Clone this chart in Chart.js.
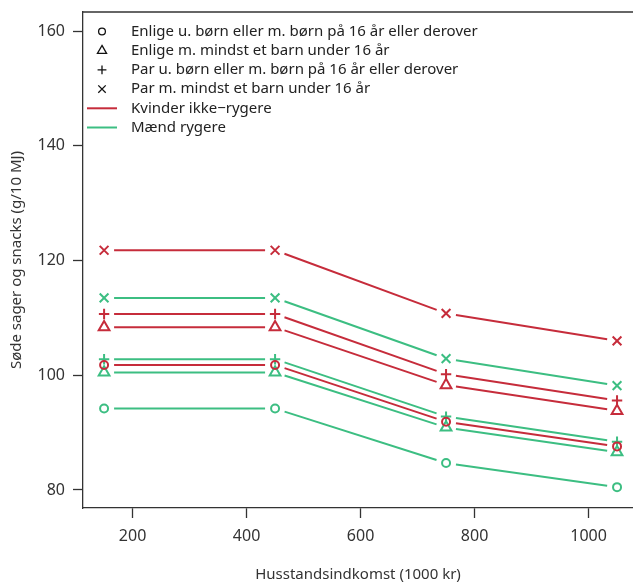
<!DOCTYPE html>
<html>
<head>
<meta charset="utf-8">
<script src="https://cdn.jsdelivr.net/npm/chart.js@4/dist/chart.umd.min.js"></script>
<style>
  html, body { margin: 0; padding: 0; background: #fff; }
  #wrap { width: 633px; height: 584px; }
</style>
</head>
<body>
<div id="wrap"><canvas id="chart" width="633" height="584"></canvas></div>
<script>
// household income (1000 kr)
const incomes = [150, 450, 750, 1050];
const xTicks = [200, 400, 600, 800, 1000];
const yTicks = [80, 100, 120, 140, 160];

const householdTypes = [
  "Enlige u. børn eller m. børn på 16 år eller derover",
  "Enlige m. mindst et barn under 16 år",
  "Par u. børn eller m. børn på 16 år eller derover",
  "Par m. mindst et barn under 16 år",
];
const groups = ["Kvinder ikke\u2212rygere", "Mænd rygere"];

// Kvinder ikke-rygere
const kvEnligeUden = [101.8, 101.8, 91.9, 87.6];
const kvEnligeMed = [108.4, 108.4, 98.3, 93.8];
const kvParUden = [110.7, 110.7, 100.2, 95.6];
const kvParMed = [121.8, 121.8, 110.8, 106.0];
// Mænd rygere
const mdEnligeUden = [94.2, 94.2, 84.7, 80.5];
const mdEnligeMed = [100.5, 100.5, 90.9, 86.6];
const mdParUden = [102.8, 102.8, 92.8, 88.4];
const mdParMed = [113.5, 113.5, 102.9, 98.2];

const RED = "#c62c3b";
const GREEN = "#3cbe82";
const INK = "#333333";
const FONT = "'Noto Sans', sans-serif";
const styles = ["circle", "triangle", "cross", "crossRot"];
const radii = { circle: 4, triangle: 6.2, cross: 5.2, crossRot: 6.2 };

const series = [
  [kvEnligeUden, 0, RED], [kvEnligeMed, 1, RED], [kvParUden, 2, RED], [kvParMed, 3, RED],
  [mdEnligeUden, 0, GREEN], [mdEnligeMed, 1, GREEN], [mdParUden, 2, GREEN], [mdParMed, 3, GREEN],
];

const datasets = series.map(([vals, type, color]) => ({
  label: householdTypes[type],
  data: vals.map((v, i) => ({ x: incomes[i], y: v })),
  showLine: false,
  borderColor: color,
  backgroundColor: "rgba(0,0,0,0)",
  pointStyle: styles[type],
  pointRadius: radii[styles[type]],
  pointBorderWidth: 2,
}));

// plot region runs to the right edge of the canvas, as in the original crop
const fullWidth = {
  id: "fullWidth",
  afterLayout(chart) {
    const xs = chart.scales.x;
    const area = chart.chartArea;
    area.right = chart.width;
    area.width = area.right - area.left;
    xs.right = chart.width;
    xs.width = xs.right - xs.left;
    xs.configure();
  },
};

// R style type="b": line segments with a gap around each point
const gapLines = {
  id: "gapLines",
  beforeDatasetsDraw(chart) {
    const ctx = chart.ctx;
    const gap = 10;
    ctx.save();
    chart.data.datasets.forEach((ds, di) => {
      const pts = chart.getDatasetMeta(di).data;
      ctx.strokeStyle = ds.borderColor;
      ctx.lineWidth = 2;
      for (let i = 0; i < pts.length - 1; i++) {
        const a = pts[i], b = pts[i + 1];
        const dx = b.x - a.x, dy = b.y - a.y;
        const len = Math.hypot(dx, dy);
        if (len <= gap * 2) continue;
        const ux = dx / len, uy = dy / len;
        ctx.beginPath();
        ctx.moveTo(a.x + ux * gap, a.y + uy * gap);
        ctx.lineTo(b.x - ux * gap, b.y - uy * gap);
        ctx.stroke();
      }
    });
    ctx.restore();
  },
};

const frameAndLegend = {
  id: "frameAndLegend",
  afterDraw(chart) {
    const ctx = chart.ctx;
    const area = chart.chartArea;
    ctx.save();
    // top border line
    ctx.strokeStyle = INK;
    ctx.lineWidth = 1.3;
    ctx.beginPath();
    ctx.moveTo(area.left, area.top);
    ctx.lineTo(chart.width, area.top);
    ctx.stroke();

    const x0 = area.left + 4;
    const mx = area.left + 19;
    const tx = area.left + 48;
    const y0 = area.top + 19.5;
    const step = 19.2;
    ctx.font = "15px " + FONT;
    ctx.textBaseline = "middle";
    householdTypes.forEach((label, i) => {
      const y = y0 + i * step;
      ctx.strokeStyle = "#111";
      ctx.fillStyle = "rgba(0,0,0,0)";
      Chart.helpers.drawPoint(ctx, { pointStyle: styles[i], radius: radii[styles[i]] * 0.85, borderWidth: 2, rotation: 0 }, mx, y);
      ctx.fillStyle = "#222";
      ctx.fillText(label, tx, y);
    });
    groups.forEach((label, j) => {
      const y = y0 + (4 + j) * step;
      ctx.strokeStyle = j === 0 ? RED : GREEN;
      ctx.lineWidth = 2;
      ctx.beginPath();
      ctx.moveTo(x0, y);
      ctx.lineTo(x0 + 30, y);
      ctx.stroke();
      ctx.fillStyle = "#222";
      ctx.fillText(label, tx, y);
    });
    ctx.restore();
  },
};

new Chart(document.getElementById("chart"), {
  type: "scatter",
  data: { datasets },
  plugins: [fullWidth, gapLines, frameAndLegend],
  options: {
    responsive: false,
    animation: false,
    layout: { padding: { top: 12, right: 0, left: 0, bottom: 0 } },
    plugins: { legend: { display: false }, tooltip: { enabled: false } },
    scales: {
      x: {
        type: "linear",
        min: 113,
        max: 1078,
        afterBuildTicks: (s) => { s.ticks = xTicks.map((v) => ({ value: v })); },
        afterFit: (s) => { s.height = 76; },
        grid: { drawOnChartArea: false, tickLength: 10, tickColor: INK, tickWidth: 1.3 },
        border: { display: true, color: INK, width: 1.3 },
        ticks: { color: INK, font: { family: FONT, size: 16 }, padding: 9, maxRotation: 0, callback: (v) => String(v) },
        title: { display: true, text: "Husstandsindkomst (1000 kr)", color: INK, font: { family: FONT, size: 15 }, padding: { top: 0, bottom: 0 } },
      },
      y: {
        type: "linear",
        min: 76.86,
        max: 163.35,
        afterBuildTicks: (s) => { s.ticks = yTicks.map((v) => ({ value: v })); },
        afterFit: (s) => { s.width = 83; s.paddingTop = 0; s.paddingBottom = 0; },
        grid: { drawOnChartArea: false, tickLength: 10, tickColor: INK, tickWidth: 1.3 },
        border: { display: true, color: INK, width: 1.3 },
        ticks: { color: INK, font: { family: FONT, size: 16 }, padding: 8, callback: (v) => String(v) },
        title: { display: true, text: "Søde sager og snacks (g/10 MJ)", color: INK, font: { family: FONT, size: 15 }, padding: { top: 8, bottom: 0 } },
      },
    },
  },
});
</script>
</body>
</html>
